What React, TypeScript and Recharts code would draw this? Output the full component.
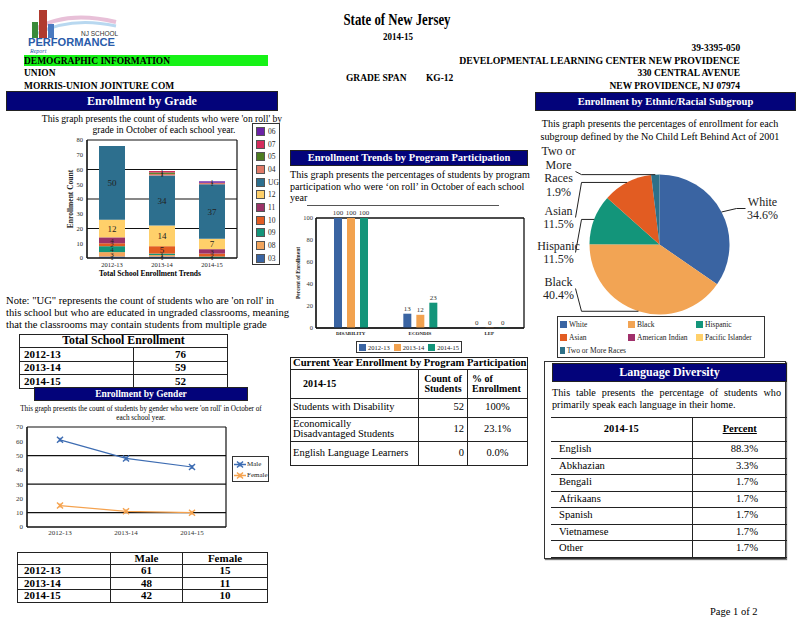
import React from 'react';
import {
  BarChart, Bar, XAxis, YAxis, CartesianGrid, LabelList, Legend,
  LineChart, Line, PieChart, Pie, Cell,
} from 'recharts';

// ---- data ----
const years = ['2012-13', '2013-14', '2014-15'];

// stacked grade counts, bottom of the stack first
const grade03 = [1, 1, 0];
const grade08 = [3, 1, 0];
const grade09 = [4, 1, 1];
const grade10 = [2, 5, 2];
const grade11 = [4, 0, 3];
const grade12 = [12, 14, 7];
const gradeUG = [50, 34, 37];
const grade04 = [0, 1, 1];
const grade05 = [0, 1, 0];
const grade07 = [0, 1, 0];
const grade06 = [0, 0, 1];

const totalEnrollment = [76, 59, 52];
const genderNames = ['Male', 'Female'];
const maleCounts = [61, 48, 42];
const femaleCounts = [15, 11, 10];

const programs = ['DISABILITY', 'ECONDIS', 'LEP'];
const program2012 = [100, 13, 0];
const program2013 = [100, 12, 0];
const program2014 = [100, 23, 0];

const programRows = ['Students with Disability', 'Economically Disadvantaged Students', 'English Language Learners'];
const programCounts = [52, 12, 0];
const programPct = ['100%', '23.1%', '0.0%'];

const ethnicNames = ['White', 'Black', 'Hispanic', 'Asian', 'American Indian', 'Pacific Islander', 'Two or More Races'];
const ethnicPct = [34.6, 40.4, 11.5, 11.5, 0, 0, 1.9];

const languages = ['English', 'Abkhazian', 'Bengali', 'Afrikaans', 'Spanish', 'Vietnamese', 'Other'];
const languagePct = ['88.3%', '3.3%', '1.7%', '1.7%', '1.7%', '1.7%', '1.7%'];

// ---- styles ----
const FONT = '"Liberation Serif", "Times New Roman", serif';
const NAVY = '#03037a';
const gradeSeries: [string, number[]][] = [
  ['03', grade03], ['08', grade08], ['09', grade09], ['10', grade10], ['11', grade11],
  ['12', grade12], ['UG', gradeUG], ['04', grade04], ['05', grade05], ['07', grade07], ['06', grade06],
];
const gradeColors: Record<string, string> = {
  '03': '#3a64a2', '08': '#f2a55c', '09': '#13957a', '10': '#e25c22', '11': '#9c3368',
  '12': '#ffd06a', UG: '#2d6f8e', '04': '#e07a68', '05': '#4d7d1f', '07': '#d42c5c', '06': '#6b22a6',
};
const genderColors = ['#3d6cb2', '#f5a24e'];
const yearColors = ['#3a64a2', '#f2a24f', '#13957a'];
const ethnicColors = ['#3a64a2', '#f2a454', '#13957a', '#e25c22', '#a0306b', '#ffd06a', '#2d7088'];
const pieLabelDy: Record<string, number> = { White: -36, Black: 44, Hispanic: 8, Asian: -27, 'Two or More Races': -73 };

const gradeRows = years.map((year, i) => {
  const row: any = { year };
  gradeSeries.forEach(([k, vals]) => { row[k] = vals[i]; });
  return row;
});
const genderRows = years.map((year, i) => ({ year, Male: maleCounts[i], Female: femaleCounts[i] }));
const programData = programs.map((p, i) => ({ name: p, '2012-13': program2012[i], '2013-14': program2013[i], '2014-15': program2014[i] }));
const pieData = ethnicNames.map((n, i) => ({ name: n, value: ethnicPct[i], fill: ethnicColors[i] }));

const frameLines = ({ offset }: any) => [offset.left, offset.left + offset.width];

function Txt({ x, y, size = 11, bold = false, align = 'left', sx = 1, color = '#000', children }: any) {
  const style: React.CSSProperties = {
    position: 'absolute', top: y - size * 0.6, fontSize: size, lineHeight: `${size * 1.2}px`,
    fontWeight: bold ? 700 : 400, whiteSpace: 'nowrap', color,
  };
  if (align === 'left') { style.left = x; style.transformOrigin = 'left center'; }
  else if (align === 'right') { style.right = 800 - x; style.transformOrigin = 'right center'; }
  else { style.left = x - 300; style.width = 600; style.textAlign = 'center'; }
  if (sx !== 1) style.transform = `scaleX(${sx})`;
  return <div style={style}>{children}</div>;
}

function Banner({ x, y, w, h, size, children }: any) {
  return (
    <div style={{
      position: 'absolute', left: x, top: y, width: w, height: h, background: NAVY, color: '#fff',
      fontWeight: 700, fontSize: size, lineHeight: `${h - 2}px`, textAlign: 'center',
      boxSizing: 'border-box', border: '1px solid #222',
    }}>{children}</div>
  );
}

const td = (extra: React.CSSProperties = {}): React.CSSProperties => ({
  border: '1.5px solid #222', padding: '0 4px', lineHeight: 1, ...extra,
});

function Logo() {
  return (
    <svg style={{ position: 'absolute', left: 26, top: 8 }} width={100} height={46}>
      <path d="M8 22 Q40 2 90 14" stroke="#e8c0d8" strokeWidth={4} fill="none" />
      <path d="M10 26 Q45 8 90 18" stroke="#b8d8f0" strokeWidth={3} fill="none" />
      <rect x={6} y={14} width={6} height={16} fill="#3a8a3a" />
      <rect x={13} y={2} width={8} height={28} fill="#b03a2e" />
      <rect x={22} y={16} width={6} height={14} fill="#4a7ac0" />
      <text x={55} y={28} fontSize={6.5} fontFamily="Arial, sans-serif" fill="#333">NJ SCHOOL</text>
      <text x={2} y={38} fontSize={11} fontWeight={700} fontFamily="Arial, sans-serif" fill="#2a5caa" textLength={87} lengthAdjust="spacingAndGlyphs">PERFORMANCE</text>
      <text x={4} y={45} fontSize={6} fontStyle="italic" fill="#2a5caa">Report</text>
    </svg>
  );
}

function GradeLegend() {
  const items = [...gradeSeries].reverse();
  return (
    <div style={{ border: '1.5px solid #333', background: '#fff', width: 28, height: 142, boxSizing: 'border-box', paddingTop: 1 }}>
      {items.map(([k]) => (
        <div key={k} style={{ display: 'flex', alignItems: 'center', height: 12.7, fontSize: 7.5, fontFamily: FONT, color: '#222' }}>
          <span style={{ display: 'inline-block', width: 7, height: 7, background: gradeColors[k], marginLeft: 3, marginRight: 3, border: '0.5px solid #555' }} />
          {k}
        </div>
      ))}
    </div>
  );
}

function SegmentLabel(props: any) {
  const { x, y, width, height, value } = props;
  if (!value) return null;
  const size = value >= 5 ? 9 : 7;
  return (
    <text x={x + width / 2} y={y + height / 2} dy={size * 0.35} textAnchor="middle" fontSize={size} fill="#222" fontFamily={FONT}>
      {value}
    </text>
  );
}

function TopLabel(props: any) {
  const { x, y, width, value } = props;
  if (value == null) return null;
  return (
    <text x={x + width / 2} y={y - 3} textAnchor="middle" fontSize={7} fill="#333" fontFamily={FONT}>{value}</text>
  );
}

function GradeChart() {
  return (
    <div style={{ position: 'absolute', left: 52, top: 135 }}>
      <BarChart width={190} height={145} data={gradeRows} margin={{ top: 5, right: 5, bottom: 0, left: 0 }} barSize={26}>
        <CartesianGrid stroke="#111" strokeWidth={1.2} verticalCoordinatesGenerator={frameLines} />
        <XAxis dataKey="year" height={22} tick={{ fontSize: 6.5, fill: '#222', fontFamily: FONT }} tickLine={false} tickSize={0} tickMargin={4} axisLine={{ stroke: '#111' }} />
        <YAxis width={35} domain={[0, 80]} ticks={[0, 10, 20, 30, 40, 50, 60, 70, 80]} tick={{ fontSize: 6.5, fill: '#222', fontFamily: FONT }}
          tickLine={false} tickSize={0} tickMargin={4} axisLine={{ stroke: '#111' }}
          label={{ value: 'Enrollment Count', angle: -90, position: 'insideLeft', offset: 18, style: { textAnchor: 'middle', fontSize: 7.5, fontWeight: 700, fill: '#222', fontFamily: FONT } }} />
        {gradeSeries.map(([k]) => (
          <Bar key={k} dataKey={k} name={k} stackId="g" fill={gradeColors[k]} isAnimationActive={false}>
            <LabelList dataKey={k} content={<SegmentLabel />} />
          </Bar>
        ))}
        <Legend content={<GradeLegend />} align="center" verticalAlign="middle" wrapperStyle={{ left: 200, top: -12, width: 30 }} />
      </BarChart>
    </div>
  );
}

function XDot(props: any) {
  const { cx, cy, stroke } = props;
  if (cx == null || cy == null) return null;
  return (
    <g stroke={stroke} strokeWidth={1.4}>
      <line x1={cx - 3} y1={cy - 3} x2={cx + 3} y2={cy + 3} />
      <line x1={cx - 3} y1={cy + 3} x2={cx + 3} y2={cy - 3} />
      <line x1={cx} y1={cy - 2} x2={cx} y2={cy + 2} />
    </g>
  );
}

function GenderLegend() {
  return (
    <div style={{ border: '1.5px solid #333', background: '#fff', width: 37, height: 26, boxSizing: 'border-box', paddingTop: 1.5 }}>
      {genderNames.map((n, i) => (
        <div key={n} style={{ display: 'flex', alignItems: 'center', height: 11, fontSize: 7, fontFamily: FONT, color: '#222' }}>
          <svg width={12} height={9} style={{ marginLeft: 1, marginRight: 1 }}>
            <line x1={0} y1={4.5} x2={12} y2={4.5} stroke={genderColors[i]} strokeWidth={1.5} />
            <XDot cx={6} cy={4.5} stroke={genderColors[i]} />
          </svg>
          {n}
        </div>
      ))}
    </div>
  );
}

function GenderChart() {
  return (
    <div style={{ position: 'absolute', left: 7, top: 422 }}>
      <LineChart width={223} height={120} data={genderRows} margin={{ top: 5, right: 4, bottom: 0, left: 0 }}>
        <CartesianGrid stroke="#111" strokeWidth={1.2} verticalCoordinatesGenerator={frameLines} />
        <XAxis dataKey="year" height={15} padding={{ left: 33, right: 34 }} tick={{ fontSize: 7, fill: '#333', fontFamily: FONT }} tickLine={false} tickSize={0} tickMargin={3} axisLine={{ stroke: '#111' }} />
        <YAxis width={20} domain={[0, 70]} ticks={[0, 10, 20, 30, 40, 50, 60, 70]} tick={{ fontSize: 7, fill: '#333', fontFamily: FONT }} tickLine={false} tickSize={0} tickMargin={4} axisLine={{ stroke: '#111' }} />
        {genderNames.map((n, i) => (
          <Line key={n} dataKey={n} stroke={genderColors[i]} strokeWidth={1.2} dot={<XDot />} isAnimationActive={false} />
        ))}
        <Legend content={<GenderLegend />} align="center" verticalAlign="middle" wrapperStyle={{ left: 225, top: 34, width: 38 }} />
      </LineChart>
    </div>
  );
}

function ProgramLegend() {
  return (
    <div style={{ border: '1.5px solid #333', background: '#fff', width: 106, height: 12, boxSizing: 'border-box', display: 'flex', alignItems: 'center', justifyContent: 'space-around' }}>
      {years.map((y, i) => (
        <span key={y} style={{ display: 'flex', alignItems: 'center', fontSize: 6.5, fontFamily: FONT, color: '#222' }}>
          <span style={{ display: 'inline-block', width: 7, height: 7, background: yearColors[i], marginRight: 2 }} />
          {y}
        </span>
      ))}
    </div>
  );
}

function ProgramChart() {
  return (
    <div style={{ position: 'absolute', left: 290, top: 200 }}>
      <BarChart width={240} height={140} data={programData} margin={{ top: 18, right: 6, bottom: 0, left: 0 }} barSize={8} barGap={5}>
        <CartesianGrid stroke="#111" strokeWidth={1.3} horizontalCoordinatesGenerator={({ offset }: any) => [offset.top, offset.top + offset.height]} verticalCoordinatesGenerator={frameLines} />
        <XAxis dataKey="name" height={12} tick={{ fontSize: 5, fontWeight: 700, fill: '#222', fontFamily: FONT }} tickLine={false} tickSize={0} tickMargin={3} axisLine={{ stroke: '#111' }} />
        <YAxis width={26} domain={[0, 100]} ticks={[0, 20, 40, 60, 80, 100]} tick={{ fontSize: 6.5, fill: '#333', fontFamily: FONT }} tickLine={false} tickSize={0} tickMargin={3} axisLine={{ stroke: '#111' }}
          label={{ value: 'Percent of Enrollment', angle: -90, position: 'insideLeft', offset: 8, style: { textAnchor: 'middle', fontSize: 5.5, fontWeight: 700, fill: '#222', fontFamily: FONT } }} />
        {years.map((y, i) => (
          <Bar key={y} dataKey={y} fill={yearColors[i]} minPointSize={0.5} isAnimationActive={false}>
            <LabelList dataKey={y} content={<TopLabel />} />
          </Bar>
        ))}
        <Legend content={<ProgramLegend />} align="center" verticalAlign="middle" wrapperStyle={{ left: 66, top: 141, width: 107 }} />
      </BarChart>
    </div>
  );
}

function PieLabel(props: any) {
  const { cx, cy, midAngle, outerRadius, name, value } = props;
  if (!value) return null;
  const rad = Math.PI / 180;
  const ex = cx + outerRadius * Math.cos(-midAngle * rad);
  const ey = cy + outerRadius * Math.sin(-midAngle * rad);
  const ty = cy + (pieLabelDy[name] ?? 0);
  const right = ex > cx;
  const lines = name === 'Two or More Races' ? ['Two or', 'More', 'Races', `${value}%`] : [name, `${value}%`];
  const tx = right ? cx + outerRadius + 33 : cx - outerRadius - 31;
  const path = right
    ? `M${ex},${ey} L${cx + outerRadius + 7},${ty} L${cx + outerRadius + 16},${ty}`
    : `M${ex},${ey} L${cx - outerRadius - 8},${ey} L${cx - outerRadius - 14},${ty}`;
  const top = ty - ((lines.length - 1) * 13.5) / 2;
  return (
    <g>
      <path d={path} stroke="#222" strokeWidth={1} fill="none" />
      <text textAnchor="middle" fontSize={12} fill="#222" fontFamily={FONT}>
        {lines.map((l, i) => (
          <tspan key={i} x={tx} y={top + i * 13.5 + 4}>{l}</tspan>
        ))}
      </text>
    </g>
  );
}

function EthnicLegend() {
  return (
    <div style={{ border: '1.5px solid #333', background: '#fff', width: 208, height: 42, boxSizing: 'border-box', display: 'flex', flexWrap: 'wrap', paddingTop: 1 }}>
      {ethnicNames.map((n, i) => (
        <span key={n} style={{ display: 'flex', alignItems: 'center', width: 68, height: 13, fontSize: 7.5, fontFamily: FONT, color: '#222', whiteSpace: 'nowrap' }}>
          <span style={{ display: 'inline-block', width: 7, height: 7, background: ethnicColors[i], marginLeft: 2, marginRight: 2 }} />
          {n}
        </span>
      ))}
    </div>
  );
}

function EthnicChart() {
  return (
    <div style={{ position: 'absolute', left: 535, top: 145 }}>
      <PieChart width={260} height={170} margin={{ top: 0, right: 0, bottom: 0, left: 0 }}>
        <Pie data={pieData} dataKey="value" nameKey="name" cx={124.5} cy={99.5} outerRadius={70} startAngle={90} endAngle={-270}
          stroke="none" label={PieLabel} labelLine={false} isAnimationActive={false}>
          {pieData.map((d) => <Cell key={d.name} fill={d.fill} />)}
        </Pie>
        <Legend content={<EthnicLegend />} align="center" verticalAlign="middle" wrapperStyle={{ left: 22, top: 171, width: 208 }} />
      </PieChart>
    </div>
  );
}

export default function App() {
  const bold11 = { fontWeight: 700, fontSize: 11 };
  return (
    <div style={{ position: 'absolute', left: 0, top: 0, width: 800, height: 618, overflow: 'hidden', background: '#fff', fontFamily: FONT, color: '#000' }}>
      <Logo />
      <Txt x={397} y={20} size={16} bold align="center" sx={0.8}>State of New Jersey</Txt>
      <Txt x={398} y={37} size={11} bold align="center" sx={0.82}>2014-15</Txt>
      <div style={{ position: 'absolute', left: 24, top: 55, width: 244, height: 11, background: '#16f216' }} />
      <Txt x={24} y={61} size={10.5} bold sx={0.9}>DEMOGRAPHIC INFORMATION</Txt>
      <Txt x={24} y={73} size={10.5} bold sx={0.9}>UNION</Txt>
      <Txt x={24} y={86} size={10.5} bold sx={0.9}>MORRIS-UNION JOINTURE COM</Txt>
      <Txt x={346} y={78} size={10.5} bold sx={0.9}>GRADE SPAN</Txt>
      <Txt x={426} y={78} size={10.5} bold sx={0.9}>KG-12</Txt>
      <Txt x={740} y={48} size={10.5} bold align="right" sx={0.9}>39-3395-050</Txt>
      <Txt x={740} y={61} size={10.5} bold align="right" sx={0.93}>DEVELOPMENTAL LEARNING CENTER NEW PROVIDENCE</Txt>
      <Txt x={740} y={73} size={10.5} bold align="right" sx={0.9}>330 CENTRAL AVENUE</Txt>
      <Txt x={740} y={86} size={10.5} bold align="right" sx={0.9}>NEW PROVIDENCE, NJ 07974</Txt>

      <Banner x={6} y={91} w={272} h={20} size={12}>Enrollment by Grade</Banner>
      <Txt x={162} y={119} size={9.6} align="center">This graph presents the count of students who were 'on roll' by</Txt>
      <Txt x={164} y={130} size={9.6} align="center">grade in October of each school year.</Txt>
      <GradeChart />
      <Txt x={150} y={273} size={7.5} bold align="center">Total School Enrollment Trends</Txt>

      <Txt x={6} y={301} size={10.6}>Note: "UG" represents the count of students who are 'on roll' in</Txt>
      <Txt x={6} y={313} size={10.6}>this school but who are educated in ungraded classrooms, meaning</Txt>
      <Txt x={6} y={325} size={10.6}>that the classrooms may contain students from multiple grade</Txt>

      <table style={{ position: 'absolute', left: 19, top: 334, width: 208, borderCollapse: 'collapse', tableLayout: 'fixed' }}>
        <colgroup><col style={{ width: 114 }} /><col style={{ width: 94 }} /></colgroup>
        <tbody>
          <tr style={{ height: 13 }}><td colSpan={2} style={td({ textAlign: 'center', fontWeight: 700, fontSize: 11.8 })}>Total School Enrollment</td></tr>
          {years.map((y, i) => (
            <tr key={y} style={{ height: 13.5 }}>
              <td style={td(bold11)}>{y}</td>
              <td style={td({ ...bold11, textAlign: 'center' })}>{totalEnrollment[i]}</td>
            </tr>
          ))}
        </tbody>
      </table>

      <Banner x={34} y={387} w={214} h={14} size={9.5}>Enrollment by Gender</Banner>
      <Txt x={141} y={409} size={7.2} align="center">This graph presents the count of students by gender who were 'on roll' in October of</Txt>
      <Txt x={141} y={418} size={7.2} align="center">each school year.</Txt>
      <GenderChart />

      <table style={{ position: 'absolute', left: 17, top: 552, width: 250, borderCollapse: 'collapse', tableLayout: 'fixed' }}>
        <colgroup><col style={{ width: 93 }} /><col style={{ width: 72 }} /><col style={{ width: 85 }} /></colgroup>
        <tbody>
          <tr style={{ height: 11.5 }}>
            <td style={td()} />
            <td style={td({ ...bold11, textAlign: 'center' })}>Male</td>
            <td style={td({ ...bold11, textAlign: 'center' })}>Female</td>
          </tr>
          {years.map((y, i) => (
            <tr key={y} style={{ height: 12.5 }}>
              <td style={td({ ...bold11, paddingLeft: 6 })}>{y}</td>
              <td style={td({ ...bold11, textAlign: 'center' })}>{maleCounts[i]}</td>
              <td style={td({ ...bold11, textAlign: 'center' })}>{femaleCounts[i]}</td>
            </tr>
          ))}
        </tbody>
      </table>

      <Banner x={290} y={150} w={238} h={16} size={10.5}>Enrollment Trends by Program Participation</Banner>
      <Txt x={290} y={175} size={10.1}>This graph presents the percentages of students by program</Txt>
      <Txt x={290} y={187} size={10.1}>participation who were ‘on roll’ in October of each school</Txt>
      <Txt x={290} y={198} size={10.1}>year</Txt>
      <div style={{ position: 'absolute', left: 307, top: 205, width: 192, height: 0, borderTop: '1px solid #555' }} />
      <ProgramChart />

      <table style={{ position: 'absolute', left: 290, top: 357, width: 237, borderCollapse: 'collapse', tableLayout: 'fixed' }}>
        <colgroup><col style={{ width: 128 }} /><col style={{ width: 49 }} /><col style={{ width: 60 }} /></colgroup>
        <tbody>
          <tr style={{ height: 11 }}><td colSpan={3} style={td({ fontWeight: 700, fontSize: 10.6, padding: '0 2px', whiteSpace: 'nowrap' })}>Current Year Enrollment by Program Participation</td></tr>
          <tr style={{ height: 29 }}>
            <td style={td({ fontWeight: 700, fontSize: 10, paddingLeft: 12 })}>2014-15</td>
            <td style={td({ fontWeight: 700, fontSize: 10, textAlign: 'center', padding: 0 })}>Count of<br />Students</td>
            <td style={td({ fontWeight: 700, fontSize: 10, paddingLeft: 4 })}>% of<br />Enrollment</td>
          </tr>
          {programRows.map((r, i) => (
            <tr key={r} style={{ height: i === 0 ? 19 : 24 }}>
              <td style={td({ fontSize: 10.5, padding: '0 2px' })}>{r}</td>
              <td style={td({ fontSize: 10.5, textAlign: 'right', paddingRight: 3 })}>{programCounts[i]}</td>
              <td style={td({ fontSize: 10.5, textAlign: 'center' })}>{programPct[i]}</td>
            </tr>
          ))}
        </tbody>
      </table>

      <Banner x={535} y={92} w={261} h={19} size={10.5}>Enrollment by Ethnic/Racial Subgroup</Banner>
      <Txt x={660} y={124} size={10.1} align="center">This graph presents the percentages of enrollment for each</Txt>
      <Txt x={660} y={137} size={10.1} align="center">subgroup defined by the No Child Left Behind Act of 2001</Txt>
      <EthnicChart />

      <div style={{ position: 'absolute', left: 544, top: 361, width: 242, height: 198, boxSizing: 'border-box', border: '1.5px solid #333', boxShadow: '1px 1px 1px #777' }} />
      <Banner x={552} y={363} w={235} h={19} size={12}>Language Diversity</Banner>
      <div style={{ position: 'absolute', left: 552, top: 387, width: 229, fontSize: 10.2, lineHeight: '12px', textAlign: 'justify', textAlignLast: 'justify' }}>This table presents the percentage of students who</div>
      <Txt x={552} y={405} size={10.2}>primarily speak each language in their home.</Txt>
      <table style={{ position: 'absolute', left: 551, top: 417, width: 236, borderCollapse: 'collapse', tableLayout: 'fixed' }}>
        <colgroup><col style={{ width: 141 }} /><col style={{ width: 95 }} /></colgroup>
        <tbody>
          <tr style={{ height: 24 }}>
            <td style={td({ fontWeight: 700, fontSize: 10.5, textAlign: 'center', borderLeft: 'none' })}>2014-15</td>
            <td style={td({ fontWeight: 700, fontSize: 10.5, textAlign: 'center', textDecoration: 'underline', borderRight: 'none' })}>Percent</td>
          </tr>
          {languages.map((l, i) => (
            <tr key={l} style={{ height: 16.5 }}>
              <td style={td({ fontSize: 10.6, paddingLeft: 8, borderLeft: 'none' })}>{l}</td>
              <td style={td({ fontSize: 10.6, textAlign: 'right', paddingRight: 29, borderRight: 'none' })}>{languagePct[i]}</td>
            </tr>
          ))}
        </tbody>
      </table>

      <Txt x={710} y={612} size={10.5}>Page 1 of 2</Txt>
    </div>
  );
}
